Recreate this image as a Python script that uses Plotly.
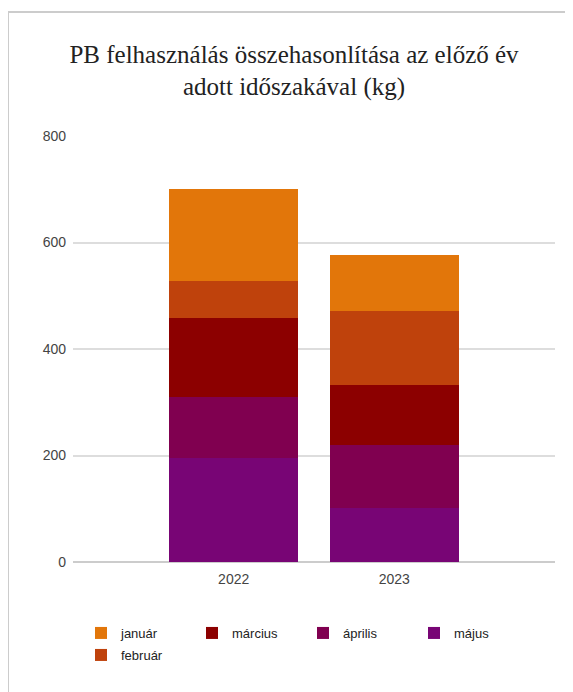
import plotly.graph_objects as go

years = ["2022", "2023"]
months = ["január", "február", "március", "április", "május"]
values = {
    "május": [196, 102],
    "április": [113, 117],
    "március": [150, 113],
    "február": [68, 139],
    "január": [173, 105],
}
colors = {
    "január": "#E2760A",
    "február": "#BF420C",
    "március": "#8C0000",
    "április": "#800050",
    "május": "#780575",
}
y_ticks = [0, 200, 400, 600, 800]
title_lines = ["PB felhasználás összehasonlítása az előző év", "adott időszakával (kg)"]

# page body has an 8px margin, so figure px = screen px - 8
W, H = 573, 692
L, R, T, B = 65, 26, 128, 138
pw, ph = W - L - R, H - T - B

fig = go.Figure()
stack_order = ["május", "április", "március", "február", "január"]
legend_rank = {"január": 1, "március": 2, "április": 3, "május": 4, "február": 5}
for m in stack_order:
    fig.add_trace(go.Bar(
        x=years, y=values[m], name=m,
        marker=dict(color=colors[m], line=dict(width=0)),
        legend="legend2" if m == "február" else "legend",
        legendrank=legend_rank[m],
    ))

def px_x(px):
    return (px - L) / pw

def px_y(py):
    return (H - B - py) / ph

leg_font = dict(family="Liberation Sans", size=13, color="#222222")
tick_font = dict(family="Liberation Sans", size=14, color="#444444")

fig.update_layout(
    width=W, height=H,
    margin=dict(l=L, r=R, t=T, b=B, autoexpand=False),
    barmode="stack",
    bargap=0.2,
    plot_bgcolor="white",
    paper_bgcolor="white",
    title=dict(
        text="<br>".join(title_lines),
        font=dict(family="Liberation Serif", size=25, color="#222222"),
        x=286 / W, xanchor="center",
        y=1 - 54.5 / H, yanchor="middle",
    ),
    xaxis=dict(
        type="category", range=[-1, 2],
        showgrid=False, zeroline=False, showline=False,
        ticks="", ticklabelstandoff=7,
        tickfont=tick_font,
    ),
    yaxis=dict(
        range=[0, 800], tickvals=y_ticks,
        showgrid=True, gridcolor="#DDDDDD", gridwidth=1.5,
        zeroline=True, zerolinecolor="#CCCCCC", zerolinewidth=1.5,
        showline=False, ticks="", ticklabelstandoff=6,
        tickfont=tick_font,
    ),
    legend=dict(
        orientation="h", x=px_x(73), xanchor="left",
        yref="container", y=1 - 610 / H, yanchor="top",
        font=leg_font, entrywidth=66, itemwidth=30, bgcolor="rgba(0,0,0,0)",
        traceorder="normal",
    ),
    legend2=dict(
        orientation="h", x=px_x(73), xanchor="left",
        yref="container", y=1 - 632 / H, yanchor="top",
        font=leg_font, itemwidth=30, bgcolor="rgba(0,0,0,0)",
    ),
    shapes=[
        dict(type="line", xref="paper", yref="paper",
             x0=px_x(0), x1=px_x(600), y0=px_y(4), y1=px_y(4),
             line=dict(color="#CCCCCC", width=2)),
        dict(type="line", xref="paper", yref="paper",
             x0=px_x(0), x1=px_x(0), y0=px_y(4), y1=px_y(720),
             line=dict(color="#CCCCCC", width=2)),
    ],
)

fig.write_html("out.html")
